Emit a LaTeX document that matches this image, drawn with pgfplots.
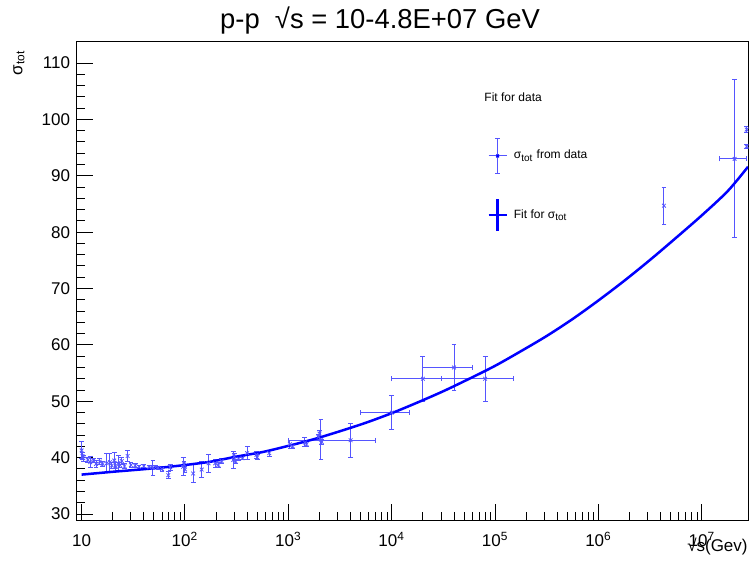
\documentclass[border=0pt]{standalone}
\usepackage{fontspec}
\setmainfont{Liberation Sans}
\usepackage{pgfplots}
\pgfplotsset{compat=1.18}
\definecolor{fitblue}{RGB}{0,0,255}
\definecolor{datblue}{RGB}{85,85,255}

% low energy points: only y errors
\pgfplotstableread{
x y ey
10 41.3 1.5
10.2 40.3 0.6
10.4 39.9 0.5
11.5 39.6 0.4
12.1 39.2 1.0
13.0 39.5 0.4
13.8 38.9 0.6
15.0 39.3 0.5
16.0 38.9 0.4
17.5 39.0 1.7
18.8 39.2 1.6
19.6 38.6 0.6
20.7 39.5 1.5
21.5 38.4 0.8
22.6 39.0 1.4
23.5 38.7 0.5
24.5 39.4 0.6
26.0 38.5 0.5
27.9 40.3 1.0
30.0 38.7 0.4
33.0 38.6 0.3
36.0 38.4 0.3
40.0 38.5 0.3
45.0 38.3 0.3
49.0 38.2 1.3
52.0 38.3 0.3
55.0 38.2 0.3
60.0 38.0 0.4
69.0 36.9 0.6
72.0 38.3 0.5
96.0 38.4 1.6
98.0 38.8 0.5
100 37.9 0.5
120 37.2 1.6
145 37.9 1.5
169 39.0 1.6
196 39.0 0.7
210 38.7 0.4
226 39.4 0.4
293 39.6 1.5
300 40.2 0.5
310 39.3 0.4
330 39.8 0.3
360 39.9 0.3
400 40.8 1.2
491 40.5 0.6
500 40.1 0.4
653 40.8 0.5
1035 42.4 0.7
1100 42.0 0.4
1445 42.7 0.8
1500 42.4 0.4
1960 43.7 0.5
2000 44.3 0.6
2066 43.2 3.5
2100 42.8 0.5
4290000 84.7 3.3
27100000 98.2 0.5
27100000 95.2 0.4
}\lowdata

% points with x and y errors
\pgfplotstableread{
x y ex ey
4000 43.1 3000 3.0
10000 48.0 5000 3.0
20000 54.0 10000 4.0
40000 56.0 20000 4.0
80000 54.0 70000 4.0
20700000 93.0 6000000 14.0
}\highdata

\begin{document}
\begin{tikzpicture}
\path[use as bounding box] (-38.5pt,-24.5pt) rectangle (337.5pt,260pt);
\begin{axis}[
  scale only axis, width=335.5pt, height=239.5pt,
  xmode=log, xmin=9.03, xmax=2.79e7,
  ymin=28.95, ymax=113.9,
  axis line style={line width=0.5pt},
  tick align=inside, xtick pos=bottom, ytick pos=left,
  major tick length=8pt, minor tick length=4pt,
  every tick/.style={black, line width=0.5pt},
  xtick={10,100,1000,10000,100000,1000000,10000000},
  xticklabels={10,10\textsuperscript{2},10\textsuperscript{3},10\textsuperscript{4},10\textsuperscript{5},10\textsuperscript{6},10\textsuperscript{7}},
  ytick={30,40,...,110}, minor y tick num=4,
  xticklabel style={font=\fontsize{8.5}{10}\selectfont, anchor=base, yshift=-13pt, inner sep=0pt},
  yticklabel style={font=\fontsize{8.5}{10}\selectfont, anchor=east, xshift=-3.3pt, inner sep=0pt,
    /pgf/number format/assume math mode=true},
  title={p-p\ \ √s = 10-4.8E+07 GeV},
  every axis title/.style={at={([yshift=6.5pt]rel axis cs:0.4516,1)}, anchor=base, inner sep=0pt,
    font=\fontsize{13.7}{15}\selectfont},
  xlabel={√s(Gev)},
  xlabel style={at={([yshift=-9pt]rel axis cs:1,0)}, anchor=north east, inner sep=0pt,
    font=\fontsize{8.5}{10}\selectfont},
  ylabel={σ\textsubscript{tot}},
  ylabel style={at={([xshift=-26pt,yshift=-4.5pt]rel axis cs:0,1)}, anchor=south east, inner sep=0pt,
    font=\fontsize{8.5}{10}\selectfont},
  legend style={draw=none, fill=none, at={(rel axis cs:0.611,0.7985)}, anchor=north west,
    font=\fontsize{6}{7}\selectfont, row sep=12pt, column sep=1pt, inner sep=0pt},
  legend cell align=left,
  error bars/error bar style={datblue, line width=0.5pt},
  error bars/error mark options={rotate=90, datblue, mark size=1.2pt, line width=0.5pt},
]
\addlegendimage{legend image code/.code={
  \draw[datblue, line width=0.5pt] (0pt,0pt) -- (9pt,0pt);
  \draw[datblue, line width=0.5pt] (4.5pt,-8.75pt) -- (4.5pt,8.75pt);
  \draw[datblue, line width=0.5pt] (3.3pt,-8.75pt) -- (5.7pt,-8.75pt) (3.3pt,8.75pt) -- (5.7pt,8.75pt);
  \draw[fitblue, line width=0.6pt] (3.8pt,-0.7pt) -- (5.2pt,0.7pt) (3.8pt,0.7pt) -- (5.2pt,-0.7pt);
}}
\addlegendentry{σ\textsubscript{tot} from data}
\addlegendimage{legend image code/.code={
  \draw[fitblue, line width=1.25pt] (0pt,0pt) -- (9pt,0pt);
  \draw[fitblue, line width=1.25pt] (4.5pt,-8pt) -- (4.5pt,8pt);
}}
\addlegendentry{Fit for σ\textsubscript{tot}}

\addplot[datblue, only marks, mark=x, mark size=1.3pt, forget plot,
  error bars/.cd, y dir=both, y explicit]
  table[x=x, y=y, y error=ey] {\lowdata};
\addplot[datblue, only marks, mark=x, mark size=1.3pt, forget plot,
  error bars/.cd, x dir=both, x explicit, y dir=both, y explicit]
  table[x=x, y=y, x error=ex, y error=ey] {\highdata};

\addplot[fitblue, line width=1.25pt, smooth, forget plot] coordinates {
(10,37.0) (20,37.5) (31.6,37.8) (56,38.2) (100,38.7) (178,39.3) (316,40.2)
(562,41.0) (1000,42.1) (1778,43.3) (3162,44.7) (5623,46.2) (1e4,47.9)
(1.78e4,49.8) (3.16e4,51.8) (5.62e4,54.0) (1e5,56.3) (1.78e5,58.9)
(3.16e5,61.6) (5.62e5,64.6) (1e6,67.9) (1.78e6,71.4) (3.16e6,75.1)
(5.62e6,79.0) (1e7,83.0) (1.78e7,87.3) (2.79e7,91.6)
};

\node[anchor=base west, inner sep=0pt, font=\fontsize{6}{7}\selectfont]
  at (rel axis cs:0.6066,0.8727) {Fit for data};
\end{axis}
\end{tikzpicture}
\end{document}
